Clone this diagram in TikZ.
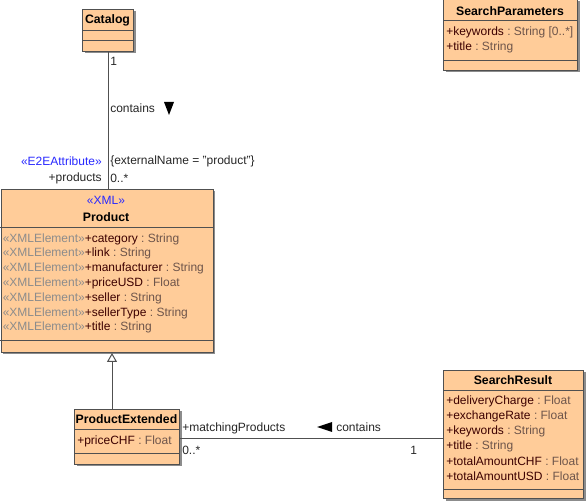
\documentclass[tikz,border=0pt]{standalone}
\usepackage{fontspec}
\setmainfont{Liberation Sans}
\usetikzlibrary{calc,arrows.meta,shadows}
\definecolor{umlfill}{RGB}{255,204,153}
\definecolor{umlline}{RGB}{80,80,80}
\definecolor{stereo}{RGB}{140,140,140}
\definecolor{stereoblue}{RGB}{40,40,255}
\definecolor{attrname}{RGB}{60,0,0}
\definecolor{attrtype}{RGB}{110,85,75}

\begin{document}
\begin{tikzpicture}[x=0.75pt, y=-0.75pt,
    every node/.style={inner sep=0pt, font=\fontsize{9}{11}\selectfont},
    classbox/.style={draw=umlline, fill=umlfill, anchor=north west, line width=0.75pt,
      drop shadow={shadow xshift=1.5pt, shadow yshift=-1.5pt, fill=black!45, opacity=1}},
    divider/.style={draw=umlline, line width=0.75pt},
    title/.style={font=\fontsize{9.2}{11}\selectfont\bfseries},
    attr/.style={anchor=west},
    lbl/.style={text=black!85}]
  \useasboundingbox (0,0) rectangle (586,502);
  % classes
  \node[classbox, minimum width=38.25pt, minimum height=31.5pt] (catalog) at (82,9) {};
  \node[classbox, minimum width=159pt, minimum height=122.25pt] (product) at (0.5,189) {};
  \node[classbox, minimum width=78.75pt, minimum height=41.25pt] (prodext) at (74,409) {};
  \node[classbox, minimum width=105pt, minimum height=96pt] (result) at (443,370) {};
  \node[classbox, minimum width=100.5pt, minimum height=53.25pt] (params) at (443,-1) {};
  % compartments
  \draw[divider] (catalog.west |- 0,31) -- (catalog.east |- 0,31);
  \draw[divider] (catalog.west |- 0,41) -- (catalog.east |- 0,41);
  \draw[divider] (product.west |- 0,228) -- (product.east |- 0,228);
  \draw[divider] (product.west |- 0,341) -- (product.east |- 0,341);
  \draw[divider] (prodext.west |- 0,430) -- (prodext.east |- 0,430);
  \draw[divider] (prodext.west |- 0,454) -- (prodext.east |- 0,454);
  \draw[divider] (result.west |- 0,391) -- (result.east |- 0,391);
  \draw[divider] (result.west |- 0,489) -- (result.east |- 0,489);
  \draw[divider] (params.west |- 0,21) -- (params.east |- 0,21);
  \draw[divider] (params.west |- 0,61) -- (params.east |- 0,61);
  % titles
  \node[title] (catalogT) at (107.5,20) {Catalog};
  \node[text=stereoblue] (productS) at (106,200) {«XML»};
  \node[title] (productT) at (106,217) {Product};
  \node[title] (prodextT) at (126.5,419.5) {ProductExtended};
  \node[title] (resultT) at (513,380) {SearchResult};
  \node[title] (paramsT) at (510,11) {SearchParameters};
  % attributes
  \foreach \n/\t [count=\i] in {category/String, link/String, manufacturer/String,
      priceUSD/Float, seller/String, sellerType/String, title/String}
    \node[attr] (pa\i) at (2.5,224.2+14.8*\i)
      {\textcolor{stereo}{«XMLElement»}\textcolor{attrname}{+\n}\textcolor{attrtype}{\ :\ \t}};
  \node[attr] (pe1) at (77,441) {\textcolor{attrname}{+priceCHF}\textcolor{attrtype}{\ :\ Float}};
  \foreach \n/\t [count=\i] in {deliveryCharge/Float, exchangeRate/Float, keywords/String,
      title/String, totalAmountCHF/Float, totalAmountUSD/Float}
    \node[attr] (ra\i) at (446,386+15*\i)
      {\textcolor{attrname}{+\n}\textcolor{attrtype}{\ :\ \t}};
  \node[attr] (sp1) at (446,32) {\textcolor{attrname}{+keywords}\textcolor{attrtype}{\ :\ String [0..*]}};
  \node[attr] (sp2) at (446,47) {\textcolor{attrname}{+title}\textcolor{attrtype}{\ :\ String}};
  % connectors
  \draw[umlline, line width=0.75pt] (catalog.south) -- (catalog.south |- product.north);
  \coordinate (gen) at (112,409);
  \draw[umlline, line width=0.75pt, -{Triangle[open, length=6.75pt, width=7.5pt, fill=white]}]
    (gen) -- (gen |- product.south);
  \coordinate (asc) at (179,439);
  \draw[umlline, line width=0.75pt] (asc) -- (asc -| result.west);
  % association labels
  \node[lbl, anchor=west] (m1) at (110,61) {1};
  \node[lbl, anchor=west] (c1) at (110,108) {contains};
  \fill[black] (164,102) -- (174,102) -- (169,115) -- cycle;
  \node[text=stereoblue, anchor=east] (e2e) at (102,161) {«E2EAttribute»};
  \node[lbl, anchor=west] (ext) at (110,161) {\{externalName = "product"\}};
  \node[lbl, anchor=east] (r1) at (102,178) {+products};
  \node[lbl, anchor=west] (m2) at (110,178) {0..*};
  \node[lbl, anchor=west] (r2) at (182,428) {+matchingProducts};
  \node[lbl, anchor=west] (m3) at (182,450) {0..*};
  \fill[black] (317,427) -- (332,422) -- (332,432) -- cycle;
  \node[lbl, anchor=west] (c2) at (336,427) {contains};
  \node[lbl, anchor=west] (m4) at (410,450) {1};
\end{tikzpicture}
\end{document}
